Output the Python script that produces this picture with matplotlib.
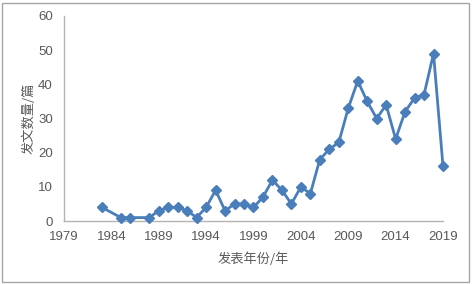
import matplotlib
matplotlib.use("Agg")
from matplotlib import pyplot as plt
from matplotlib.patches import Rectangle

# publications per year
years = [1983, 1985, 1986, 1988, 1989, 1990, 1991, 1992, 1993, 1994,
         1995, 1996, 1997, 1998, 1999, 2000, 2001, 2002, 2003, 2004,
         2005, 2006, 2007, 2008, 2009, 2010, 2011, 2012, 2013, 2014,
         2015, 2016, 2017, 2018, 2019]
counts = [4, 1, 1, 1, 3, 4, 4, 3, 1, 4,
          9, 3, 5, 5, 4, 7, 12, 9, 5, 10,
          8, 18, 21, 23, 33, 41, 35, 30, 34, 24,
          32, 36, 37, 49, 16]
x_ticks = [1979, 1984, 1989, 1994, 1999, 2004, 2009, 2014, 2019]
y_ticks = [0, 10, 20, 30, 40, 50, 60]

cjk = ['Noto Sans CJK SC', 'DejaVu Sans']
txt_col = '#595959'
axis_col = '#b3b3b3'

fig = plt.figure(figsize=(4.72, 2.84), dpi=100)
ax = fig.add_axes([64 / 472, 1 - 221 / 284, (443 - 64) / 472, (221 - 16) / 284])

ax.plot(years, counts, color='#4a7ebb', lw=2.0, marker='D', markersize=5.5,
        markerfacecolor='#4a7ebb', markeredgecolor='#4a7ebb', clip_on=False, zorder=3)

ax.set_xlim(1979, 2019)
ax.set_ylim(0, 60)
ax.set_xticks(x_ticks)
ax.set_yticks(y_ticks)
ax.tick_params(length=0, labelsize=9.5, colors=txt_col)
ax.tick_params(axis='x', pad=7)
ax.tick_params(axis='y', pad=8)
for lab in ax.get_xticklabels() + ax.get_yticklabels():
    lab.set_fontfamily('Liberation Sans')

for s in ['top', 'right']:
    ax.spines[s].set_visible(False)
for s in ['left', 'bottom']:
    ax.spines[s].set_color(axis_col)
    ax.spines[s].set_linewidth(1)

ax.set_xlabel('发表年份/年', family=cjk, fontsize=9.5, color=txt_col, labelpad=7)
ax.set_ylabel('发文数量/篇', family=cjk, fontsize=9.5, color=txt_col, labelpad=2)

# outer chart frame
fig.patches.append(Rectangle((2 / 472, 2 / 284), 467 / 472, 279 / 284,
                             transform=fig.transFigure, fill=False,
                             edgecolor='#a6a6a6', lw=1))

fig.savefig('out.png', dpi=100)
